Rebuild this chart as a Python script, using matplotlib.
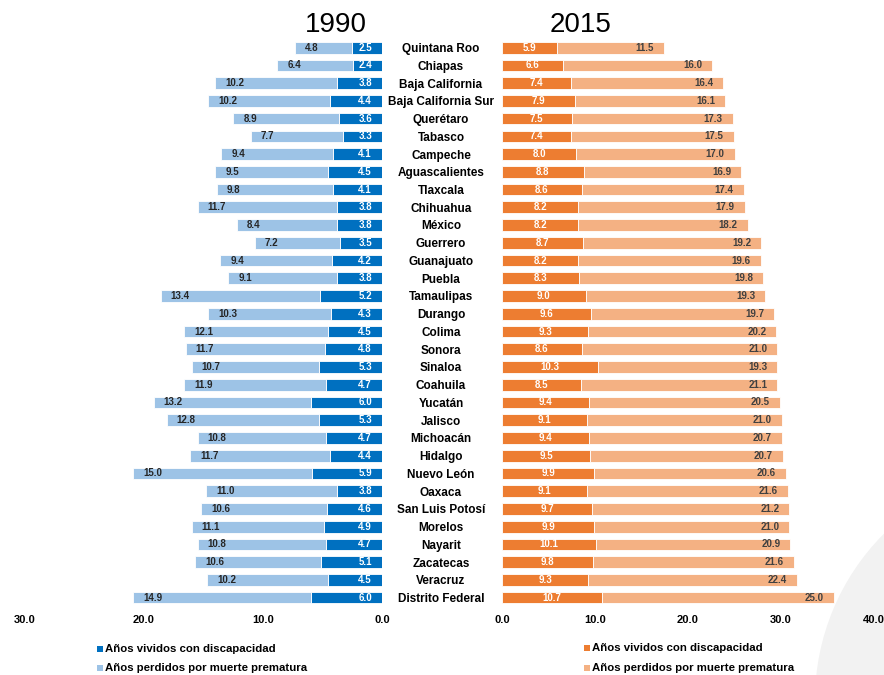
import numpy as np
import matplotlib
matplotlib.use("Agg")
import matplotlib.pyplot as plt
from matplotlib.patches import Rectangle, Ellipse
import matplotlib.transforms as mtransforms

plt.rcParams['font.family'] = ['Liberation Sans', 'DejaVu Sans']

states = ["Quintana Roo", "Chiapas", "Baja California", "Baja California Sur", "Querétaro",
          "Tabasco", "Campeche", "Aguascalientes", "Tlaxcala", "Chihuahua", "México",
          "Guerrero", "Guanajuato", "Puebla", "Tamaulipas", "Durango", "Colima", "Sonora",
          "Sinaloa", "Coahuila", "Yucatán", "Jalisco", "Michoacán", "Hidalgo", "Nuevo León",
          "Oaxaca", "San Luis Potosí", "Morelos", "Nayarit", "Zacatecas", "Veracruz",
          "Distrito Federal"]

disc_1990 = [2.5, 2.4, 3.8, 4.4, 3.6, 3.3, 4.1, 4.5, 4.1, 3.8, 3.8, 3.5, 4.2, 3.8, 5.2, 4.3,
             4.5, 4.8, 5.3, 4.7, 6.0, 5.3, 4.7, 4.4, 5.9, 3.8, 4.6, 4.9, 4.7, 5.1, 4.5, 6.0]
prem_1990 = [4.8, 6.4, 10.2, 10.2, 8.9, 7.7, 9.4, 9.5, 9.8, 11.7, 8.4, 7.2, 9.4, 9.1, 13.4, 10.3,
             12.1, 11.7, 10.7, 11.9, 13.2, 12.8, 10.8, 11.7, 15.0, 11.0, 10.6, 11.1, 10.8, 10.6, 10.2, 14.9]
disc_2015 = [5.9, 6.6, 7.4, 7.9, 7.5, 7.4, 8.0, 8.8, 8.6, 8.2, 8.2, 8.7, 8.2, 8.3, 9.0, 9.6,
             9.3, 8.6, 10.3, 8.5, 9.4, 9.1, 9.4, 9.5, 9.9, 9.1, 9.7, 9.9, 10.1, 9.8, 9.3, 10.7]
prem_2015 = [11.5, 16.0, 16.4, 16.1, 17.3, 17.5, 17.0, 16.9, 17.4, 17.9, 18.2, 19.2, 19.6, 19.8, 19.3, 19.7,
             20.2, 21.0, 19.3, 21.1, 20.5, 21.0, 20.7, 20.7, 20.6, 21.6, 21.2, 21.0, 20.9, 21.6, 22.4, 25.0]

left_ticks = [30, 20, 10, 0]
right_ticks = [0, 10, 20, 30, 40]
legend_labels = ["Años vividos con discapacidad", "Años perdidos por muerte prematura"]

DARK_BLUE = "#0070C0"
LIGHT_BLUE = "#9DC3E6"
DARK_OR = "#ED7D31"
LIGHT_OR = "#F4B183"
TXT_DARK = "#262626"

W, H = 884, 675
fig = plt.figure(figsize=(W / 100, H / 100), dpi=100)

# decorative background shape
fig.add_artist(Ellipse((1050 / W, 1 - 700 / H), 470 / W, 470 / H, transform=fig.transFigure,
                       facecolor="#F2F2F2", edgecolor="none", zorder=-5))

top_px = 38.8
bot_px = 606.5
ax_b = 1 - bot_px / H
ax_h = (bot_px - top_px) / H

axL = fig.add_axes([25 / W, ax_b, 357 / W, ax_h])
axR = fig.add_axes([502 / W, ax_b, 372 / W, ax_h])

y = np.arange(len(states))
d90 = np.array(disc_1990); p90 = np.array(prem_1990)
d15 = np.array(disc_2015); p15 = np.array(prem_2015)
bh = 0.66

axL.barh(y, d90, left=0, height=bh, color=DARK_BLUE, edgecolor="white", linewidth=0.6)
axL.barh(y, p90, left=d90, height=bh, color=LIGHT_BLUE, edgecolor="white", linewidth=0.6)
axR.barh(y, d15, left=0, height=bh, color=DARK_OR, edgecolor="white", linewidth=0.6)
axR.barh(y, p15, left=d15, height=bh, color=LIGHT_OR, edgecolor="white", linewidth=0.6)

fs_val = 7
for i in range(len(states)):
    axL.annotate(f"{d90[i]:.1f}", xy=(0, y[i]), xytext=(-7.2, 0), textcoords="offset points",
                 ha="right", va="center", fontsize=fs_val, fontweight="bold", color="white")
    axL.annotate(f"{p90[i]:.1f}", xy=(d90[i] + p90[i], y[i]), xytext=(7.2, 0), textcoords="offset points",
                 ha="left", va="center", fontsize=fs_val, fontweight="bold", color=TXT_DARK)
    axR.annotate(f"{d15[i]:.1f}", xy=(d15[i] / 2, y[i]), xytext=(0, 0), textcoords="offset points",
                 ha="center", va="center", fontsize=fs_val, fontweight="bold", color="white")
    axR.annotate(f"{p15[i]:.1f}", xy=(d15[i] + p15[i], y[i]), xytext=(-7.2, 0), textcoords="offset points",
                 ha="right", va="center", fontsize=fs_val, fontweight="bold", color="#404040")

trans = mtransforms.blended_transform_factory(fig.transFigure, axL.transData)
for i, s in enumerate(states):
    axL.text(441 / W, y[i] + 0.08, s, transform=trans, ha="center", va="center",
             fontsize=8.5, fontweight="bold", color="black", clip_on=False)

for ax, ticks, lim in ((axL, left_ticks, (30, 0)), (axR, right_ticks, (0, 40))):
    ax.set_xlim(*lim)
    ax.set_ylim(len(states) - 0.5, -0.5)
    ax.set_xticks(ticks)
    ax.set_xticklabels([f"{t:.1f}" for t in ticks], fontsize=8, fontweight="bold")
    ax.tick_params(axis="x", length=0, pad=6)
    ax.set_yticks([])
    for sp in ax.spines.values():
        sp.set_visible(False)
    ax.patch.set_visible(False)

fig.text(335.5 / W, 1 - 25 / H, "1990", ha="center", va="center", fontsize=20)
fig.text(581 / W, 1 - 25 / H, "2015", ha="center", va="center", fontsize=20)

# legends
def legend_item(x_px, y_px, color, label):
    fig.add_artist(Rectangle(((x_px) / W, 1 - (y_px + 3) / H), 6 / W, 6 / H,
                             transform=fig.transFigure, facecolor=color, edgecolor="none"))
    fig.text((x_px + 8) / W, 1 - y_px / H, label, ha="left", va="center",
             fontsize=8.2, fontweight="bold", color="black")

legend_item(97, 649, DARK_BLUE, legend_labels[0])
legend_item(97, 668, LIGHT_BLUE, legend_labels[1])
legend_item(584, 648, DARK_OR, legend_labels[0])
legend_item(584, 668, LIGHT_OR, legend_labels[1])

fig.savefig("out.png", dpi=100)
